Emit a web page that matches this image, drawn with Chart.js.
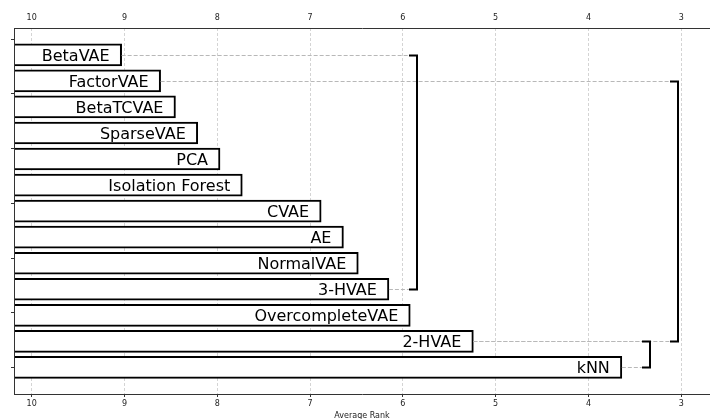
<!DOCTYPE html>
<html>
<head>
<meta charset="utf-8">
<script src="https://cdn.jsdelivr.net/npm/chart.js@4.4.1/dist/chart.umd.min.js"></script>
<style>
  html, body { margin: 0; padding: 0; background: #fff; }
  #wrap { width: 710px; height: 419px; }
</style>
</head>
<body>
<div id="wrap"><canvas id="cd-chart" width="710" height="419"></canvas></div>
<script>
const methods = [
  "BetaVAE", "FactorVAE", "BetaTCVAE", "SparseVAE", "PCA", "Isolation Forest",
  "CVAE", "AE", "NormalVAE", "3-HVAE", "OvercompleteVAE", "2-HVAE", "kNN",
];
const avgRanks = [9.03, 8.61, 8.45, 8.21, 7.97, 7.73, 6.88, 6.64, 6.48, 6.15, 5.92, 5.24, 3.64];

const rankTicks = [10, 9, 8, 7, 6, 5, 4, 3];
const rankMin = 2.69;
const rankMax = 10.19;
const rowTicks = [-0.6, 1.5, 3.6, 5.7, 7.8, 9.9, 12];

// groups without significant difference: first row, last row, rank of the bracket
const groupFirst = [0, 1, 11];
const groupLast = [9, 11, 12];
const groupRank = [5.85, 3.04, 3.34];

const FONT = "DejaVu Sans";
const STUB = 8;

const cdPlugin = {
  id: "cdBrackets",
  afterDatasetsDraw(chart) {
    const { ctx } = chart;
    const x = chart.scales.x;
    const y = chart.scales.y;
    const bars = chart.getDatasetMeta(0).data;
    ctx.save();

    // dashed leaders from the bar ends to the brackets
    ctx.strokeStyle = "#b8b8b8";
    ctx.lineWidth = 1;
    ctx.setLineDash([4, 2]);
    groupRank.forEach((r, g) => {
      const bx = x.getPixelForValue(r) - STUB;
      [groupFirst[g], groupLast[g]].forEach((row) => {
        const py = Math.round(y.getPixelForValue(row)) + 0.5;
        ctx.beginPath();
        ctx.moveTo(bars[row].x, py);
        ctx.lineTo(bx, py);
        ctx.stroke();
      });
    });

    // brackets
    ctx.setLineDash([]);
    ctx.strokeStyle = "#000";
    ctx.lineWidth = 2;
    groupRank.forEach((r, g) => {
      const bx = Math.round(x.getPixelForValue(r));
      const y1 = Math.round(y.getPixelForValue(groupFirst[g])) + 0.5;
      const y2 = Math.round(y.getPixelForValue(groupLast[g])) + 0.5;
      ctx.beginPath();
      ctx.moveTo(bx - STUB, y1);
      ctx.lineTo(bx, y1);
      ctx.lineTo(bx, y2);
      ctx.lineTo(bx - STUB, y2);
      ctx.stroke();
    });

    // method names inside the bars
    ctx.fillStyle = "#000";
    ctx.font = `16px "${FONT}"`;
    ctx.textAlign = "right";
    ctx.textBaseline = "alphabetic";
    bars.forEach((bar, i) => {
      ctx.fillText(methods[i], bar.x - 12, bar.y + 6);
    });
    ctx.restore();
  },
};

const setRankTicks = (scale) => {
  scale.ticks = rankTicks.map((v) => ({ value: v }));
};

new Chart(document.getElementById("cd-chart").getContext("2d"), {
  type: "bar",
  data: {
    datasets: [
      {
        data: methods.map((m, i) => ({ y: i, x: avgRanks[i] })),
        base: rankMax,
        backgroundColor: "#fff",
        borderColor: "#000",
        borderWidth: 2,
        borderSkipped: "left",
        barThickness: 22,
      },
    ],
  },
  plugins: [cdPlugin],
  options: {
    responsive: false,
    animation: false,
    indexAxis: "y",
    layout: { padding: 0 },
    plugins: {
      legend: { display: false },
      tooltip: { enabled: false },
    },
    scales: {
      x: {
        type: "linear",
        position: "bottom",
        min: rankMin,
        max: rankMax,
        reverse: true,
        afterBuildTicks: setRankTicks,
        ticks: { color: "#222", font: { family: FONT, size: 8 }, padding: 2, maxRotation: 0, autoSkip: false },
        grid: { color: "#d4d4d4", lineWidth: 1, drawTicks: true, tickLength: 3, tickColor: "#333", tickBorderDash: [] },
        border: { display: true, color: "#333", width: 1, dash: [3, 2] },
        title: {
          display: true,
          text: "Average Rank",
          color: "#222",
          font: { family: FONT, size: 8 },
          padding: { top: 0, bottom: -2 },
        },
        afterFit: (s) => { s.height = 25; },
      },
      x2: {
        type: "linear",
        position: "top",
        min: rankMin,
        max: rankMax,
        reverse: true,
        afterBuildTicks: setRankTicks,
        ticks: { color: "#222", font: { family: FONT, size: 8 }, padding: -3, maxRotation: 0, autoSkip: false },
        grid: { display: false },
        border: { display: true, color: "#333", width: 1 },
        afterFit: (s) => { s.height = 28; },
      },
      y: {
        type: "linear",
        offset: false,
        min: -1.03,
        max: 13.02,
        reverse: true,
        afterBuildTicks: (s) => { s.ticks = rowTicks.map((v) => ({ value: v })); },
        ticks: { display: false },
        grid: { offset: false, drawOnChartArea: false, drawTicks: true, tickLength: 3, color: "#333" },
        border: { display: true, color: "#333", width: 1, z: 1 },
        afterFit: (s) => { s.width = 14; },
      },
    },
  },
});
</script>
</body>
</html>
